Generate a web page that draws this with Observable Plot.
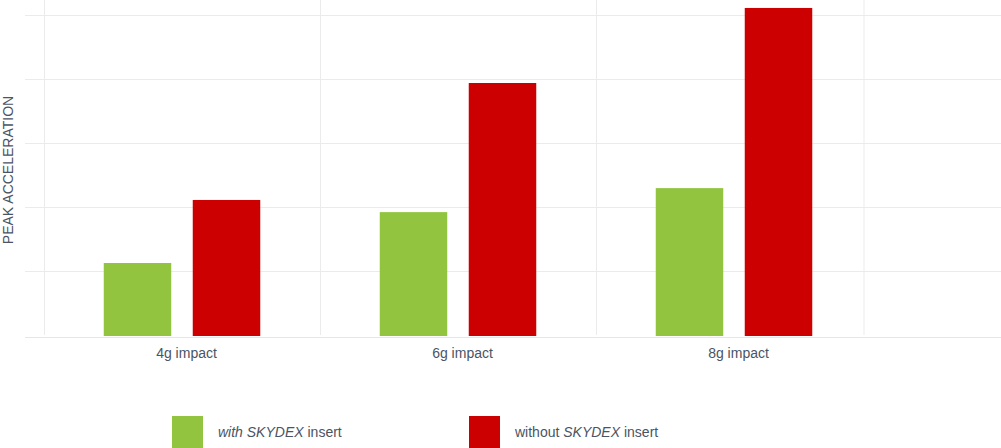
<!DOCTYPE html>
<html>
<head>
<meta charset="utf-8">
<script src="https://cdn.jsdelivr.net/npm/d3@7"></script>
<script src="https://cdn.jsdelivr.net/npm/@observablehq/plot@0.6"></script>
<style>
  html, body { margin: 0; padding: 0; background: #fff; }
  body { width: 1001px; height: 448px; overflow: hidden; font-family: "Liberation Sans", Arial, sans-serif; color: #4a5463; }
  #chart svg { display: block; }
  #legend { display: flex; align-items: center; padding-left: 172px; margin-top: 16px; height: 32px; font-size: 14px; }
  .item { display: flex; align-items: center; width: 297px; }
  .sw { width: 31px; height: 32px; margin-right: 15px; }
</style>
</head>
<body>
<div id="chart"></div>
<div id="legend"></div>
<script>
// ---- data ----
const categories = ["4g impact", "6g impact", "8g impact"];
const withInsert = [22.5, 38.4, 45.9];
const withoutInsert = [42.2, 78.75, 102.2];
const gridValues = [20, 40, 60, 80, 100];
const seriesColors = ["#92c43f", "#cc0000"];
const seriesLegend = [
  "<i>with SKYDEX</i> insert",
  "without <i>SKYDEX</i> insert"
];
const yLabel = "PEAK ACCELERATION";

const withRows = categories.map((c, i) => ({category: c, value: withInsert[i]}));
const withoutRows = categories.map((c, i) => ({category: c, value: withoutInsert[i]}));

const textColor = "#4a5463";
const gridColor = "#ebebeb";

const plot = Plot.plot({
  width: 1001,
  height: 400,
  marginLeft: 25,
  marginRight: 0,
  marginTop: 0,
  marginBottom: 65,
  style: {fontFamily: "'Liberation Sans', Arial, sans-serif", fontSize: "14px", color: textColor, background: "#fff"},
  x: {type: "band", domain: categories, range: [43.25, 872.75], padding: 0, axis: null, label: null},
  y: {domain: [0, 104.6875], axis: null, label: null},
  marks: [
    Plot.ruleX(categories, {x: d => d, dx: -138, stroke: gridColor}),
    Plot.ruleX([categories[categories.length - 1]], {x: d => d, dx: 129.5, stroke: gridColor}),
    Plot.ruleY(gridValues, {stroke: gridColor}),
    Plot.ruleY([0], {dy: 2, stroke: "#e6e6e6"}),
    Plot.barY(withRows, {x: "category", y: "value", fill: seriesColors[0], insetLeft: 59.75, insetRight: 148.75, insetBottom: -1}),
    Plot.barY(withoutRows, {x: "category", y: "value", fill: seriesColors[1], insetLeft: 148.75, insetRight: 59.75, insetBottom: -1}),
    Plot.axisX({tickSize: 0, tickPadding: 13, dx: 4, fill: textColor, fontSize: 14, label: null}),
    Plot.text([yLabel], {frameAnchor: "left", textAnchor: "middle", rotate: -90, dx: -16.5, dy: 2, fill: textColor, fontSize: 14, text: d => d})
  ]
});
document.getElementById("chart").appendChild(plot);

const legend = document.getElementById("legend");
seriesLegend.forEach((html, i) => {
  const item = document.createElement("div");
  item.className = "item";
  const sw = document.createElement("div");
  sw.className = "sw";
  sw.style.background = seriesColors[i];
  const label = document.createElement("span");
  label.innerHTML = html;
  item.appendChild(sw);
  item.appendChild(label);
  legend.appendChild(item);
});
</script>
</body>
</html>
